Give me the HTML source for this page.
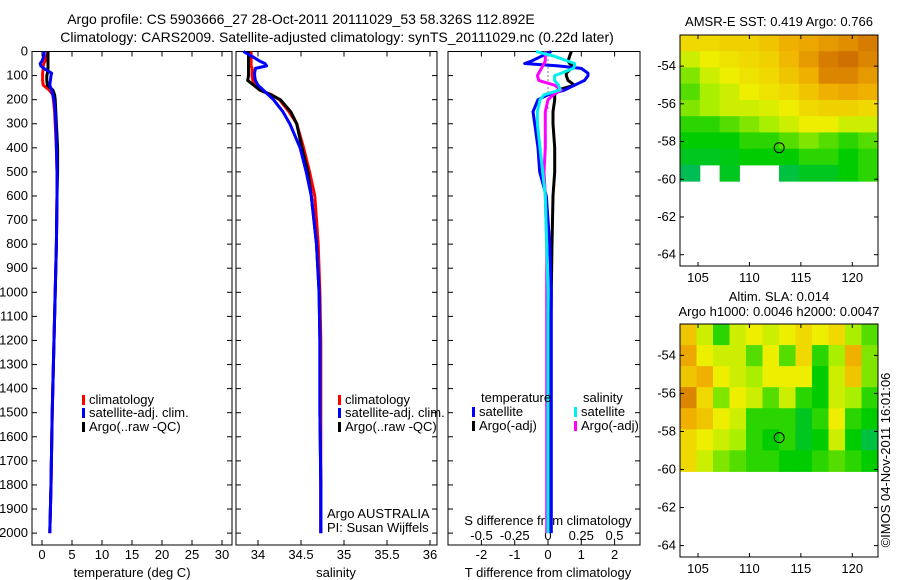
<!DOCTYPE html>
<html><head><meta charset="utf-8"><style>
body{margin:0;background:#fff}
svg{display:block;font-family:"Liberation Sans",Arial,sans-serif;font-size:13px}
</style></head><body>
<svg id="c" width="900" height="580" viewBox="0 0 900 580">
<text x="301" y="24" text-anchor="middle" font-size="14">Argo profile: CS 5903666_27 28-Oct-2011 20111029_53 58.326S 112.892E</text>
<text x="337" y="42" text-anchor="middle" font-size="14">Climatology: CARS2009. Satellite-adjusted climatology: synTS_20111029.nc (0.22d later)</text>
</svg>
<script>
// ---------- data ----------
const depthTicks=[0,100,200,300,400,500,600,700,800,900,1000,1100,1200,1300,1400,1500,1600,1700,1800,1900,2000];
const depths=[0,20,40,50,60,70,90,100,120,140,160,180,200,250,300,400,500,600,800,1000,1200,1500,1800,2000];
const tempClim=[1.0,0.8,0.5,0.3,0.2,0.2,0.1,0.1,0.1,0.2,1.2,1.8,1.9,2.1,2.2,2.4,2.5,2.5,2.4,2.2,2.0,1.7,1.5,1.3];
const tempSat=[0.4,0.3,0.0,-0.3,-0.2,0.3,1.6,1.5,1.4,1.3,1.6,1.8,2.0,2.2,2.3,2.4,2.5,2.5,2.4,2.2,2.0,1.7,1.5,1.3];
const tempArgo=[1.0,1.0,1.0,1.0,1.0,1.0,0.9,0.8,0.8,0.9,1.8,2.1,2.2,2.3,2.4,2.6,2.6,2.5,2.4,2.2,2.0,1.7,1.5,1.3];
const salClim=[33.92,33.92,33.92,33.92,33.92,33.93,33.93,33.93,33.94,33.96,34.02,34.16,34.25,34.36,34.45,34.53,34.6,34.66,34.7,34.72,34.73,34.73,34.73,34.73];
const salSat=[33.83,33.93,34.02,34.08,34.1,33.97,33.96,33.96,33.97,34.0,34.06,34.12,34.18,34.29,34.37,34.49,34.56,34.62,34.68,34.71,34.72,34.72,34.73,34.73];
const salArgo=[33.89,33.89,33.89,33.89,33.89,33.89,33.89,33.89,33.88,33.95,34.02,34.15,34.26,34.38,34.45,34.51,34.58,34.62,34.68,34.71,34.72,34.72,34.73,34.73];
const dTSat=[0.1,-0.2,-0.5,-0.7,0.3,1.0,1.2,1.2,1.1,0.8,0.5,0.0,-0.3,-0.45,-0.4,-0.3,-0.25,-0.05,0.05,0.1,0.1,0.1,0.1,0.1];
const dTArgo=[0.7,0.65,0.6,0.65,0.75,0.7,0.55,0.55,0.6,0.8,0.3,0.2,0.2,0.15,0.15,0.2,0.2,0.15,0.12,0.1,0.08,0.06,0.05,0.05];
const dSSat=[-0.09,0.05,0.15,0.2,0.2,0.19,0.1,0.05,0.05,0.08,0.09,-0.03,-0.06,-0.08,-0.08,-0.06,-0.04,-0.02,-0.01,0,0,0,0,0];
const dSArgo=[-0.02,-0.02,-0.02,-0.03,-0.04,-0.05,-0.07,-0.08,-0.07,0.05,0.1,0.04,0.0,-0.02,-0.02,-0.02,-0.03,-0.02,-0.01,-0.01,-0.01,-0.01,-0.01,-0.01];
const tempTicks=[0,5,10,15,20,25,30];
const salTicks=[34,34.5,35,35.5,36];
const salTickLabels=["34","34.5","35","35.5","36"];
const dTTicks=[-2,-1,0,1,2];
const dSTicks=[-0.5,-0.25,0,0.25,0.5];
const lonTicks=[105,110,115,120];
const latTicks=[-54,-56,-58,-60,-62,-64];
const sstGrid=[
[0.6,0.6,0.62,0.62,0.65,0.7,0.72,0.75,0.78,0.82],
[0.5,0.55,0.58,0.6,0.62,0.68,0.75,0.82,0.85,0.8],
[0.4,0.5,0.55,0.58,0.6,0.65,0.7,0.8,0.8,0.75],
[0.35,0.45,0.5,0.55,0.58,0.6,0.65,0.7,0.72,0.7],
[0.4,0.45,0.5,0.5,0.52,0.55,0.6,0.62,0.62,0.6],
[0.3,0.3,0.35,0.4,0.45,0.5,0.55,0.55,0.5,0.5],
[0.25,0.25,0.25,0.3,0.3,0.35,0.4,0.35,0.3,0.35],
[0.2,0.2,0.22,0.25,0.25,0.25,0.3,0.3,0.25,0.3],
[0.12,-1,0.2,-1,-1,0.15,0.2,0.2,0.25,0.3]];
const slaGrid=[
[0.65,0.5,0.3,0.5,0.55,0.5,0.55,0.6,0.55,0.6,0.45,0.35],
[0.72,0.55,0.5,0.5,0.35,0.55,0.35,0.6,0.3,0.45,0.7,0.4],
[0.65,0.7,0.55,0.5,0.45,0.55,0.55,0.55,0.25,0.5,0.65,0.4],
[0.8,0.6,0.4,0.55,0.5,0.35,0.5,0.3,0.25,0.5,0.45,0.3],
[0.7,0.65,0.55,0.5,0.3,0.3,0.3,0.2,0.3,0.55,0.3,0.25],
[0.6,0.55,0.5,0.45,0.3,0.25,0.3,0.2,0.25,0.5,0.25,0.15],
[0.6,0.5,0.4,0.35,0.3,0.3,0.25,0.25,0.3,0.35,0.3,0.25]];
const argoLon=112.892, argoLat=-58.326;

// ---------- helpers ----------
const svg=document.getElementById('c');
const NS='http://www.w3.org/2000/svg';
function mk(tag,attrs,parent){const e=document.createElementNS(NS,tag);for(const k in attrs)e.setAttribute(k,attrs[k]);(parent||svg).appendChild(e);return e;}
const Y0=51.5, YD=0.2408;
const yDepth=d=>Y0+d*YD;
const xT=t=>42+t*6;
const xS=s=>258+(s-34)*86;
const xDT=t=>548+t*33.3;
const xDS=s=>548+s*133;
const BOT=545;

function frame(x0,x1,name){
  const r=mk('rect',{x:x0,y:Y0,width:x1-x0,height:BOT-Y0,fill:'none',stroke:'#000','stroke-width':1});
  
  
  depthTicks.forEach(d=>{const y=yDepth(d);
    mk('line',{x1:x0,x2:x0+5,y1:y,y2:y,stroke:'#000'});
    mk('line',{x1:x1,x2:x1-5,y1:y,y2:y,stroke:'#000'});});
}
function xticks(xs,fn,labels,y,x0,x1,name){
  xs.forEach((v,i)=>{const x=fn(v);
    mk('line',{x1:x,x2:x,y1:BOT,y2:BOT-5,stroke:'#000'});
    mk('line',{x1:x,x2:x,y1:Y0,y2:Y0+5,stroke:'#000'});
    if(labels){const t=mk('text',{x:x,y:y,'text-anchor':'middle'});t.textContent=labels[i];
      
      }
  });
}
function line(vals,fn,color,name,w){
  const p=vals.map((v,i)=>fn(v).toFixed(1)+','+yDepth(depths[i]).toFixed(1)).join(' ');
  const e=mk('polyline',{points:p,fill:'none',stroke:color,'stroke-width':w||3,'stroke-linejoin':'round'});
  
  
}
function txt(x,y,s,name,anchor){const t=mk('text',{x:x,y:y,'text-anchor':anchor||'start'});t.textContent=s;
  
  return t;}
function legend(x,y,color,label){
  const r=mk('rect',{x:x,y:y-9,width:3,height:10,fill:color});
  
  
  txt(x+7,y,label,'legend-entry');
}

// ---------- panel 1 temperature ----------
frame(32,232,'temperature-panel');
depthTicks.forEach(d=>{const t=txt(28,yDepth(d)+4,String(d),'y-tick-label','end');});
xticks(tempTicks,xT,tempTicks.map(String),559,32,232,'x-tick-label');
txt(132,577,'temperature (deg C)','x-axis-title','middle');
line(tempClim,xT,'#ff0000','temp-climatology-line');
line(tempArgo,xT,'#000000','temp-argo-line');
line(tempSat,xT,'#0000ff','temp-satellite-line');
legend(82,404,'#ff0000','climatology');
legend(82,417,'#0000ff','satellite-adj. clim.');
legend(82,431,'#000000','Argo(..raw -QC)');

// ---------- panel 2 salinity ----------
frame(236,437,'salinity-panel');
xticks(salTicks,xS,salTickLabels,559,236,437,'x-tick-label');
txt(336,577,'salinity','x-axis-title','middle');
line(salClim,xS,'#ff0000','sal-climatology-line');
line(salArgo,xS,'#000000','sal-argo-line');
line(salSat,xS,'#0000ff','sal-satellite-line');
legend(338,404,'#ff0000','climatology');
legend(338,417,'#0000ff','satellite-adj. clim.');
legend(338,431,'#000000','Argo(..raw -QC)');
txt(327,518,'Argo AUSTRALIA','agency-label');
txt(327,532,'PI: Susan Wijffels','pi-label');

// ---------- panel 3 differences ----------
frame(448,640,'difference-panel');
xticks(dTTicks,xDT,dTTicks.map(String),559,448,640,'t-tick-label');
dSTicks.forEach(v=>{const t=txt(xDS(v),540,String(v),'s-tick-label','middle');});
txt(548,525,'S difference from climatology','s-axis-title','middle');
txt(548,577,'T difference from climatology','t-axis-title','middle');
mk('line',{x1:548,x2:548,y1:Y0,y2:yDepth(250),stroke:'#000','stroke-dasharray':'1,3'});
line(dTArgo,xDT,'#000000','dt-argo-line');
line(dTSat,xDT,'#0000ff','dt-satellite-line');
line(dSArgo,xDS,'#ff00ff','ds-argo-line');
line(dSSat,xDS,'#00eeee','ds-satellite-line');
txt(481,402,'temperature','legend-heading');
txt(583,402,'salinity','legend-heading');
legend(472,416,'#0000ff','satellite');
legend(472,430,'#000000','Argo(-adj)');
legend(574,416,'#00eeee','satellite');
legend(574,430,'#ff00ff','Argo(-adj)');

// ---------- maps ----------
const stops=[[0,[0,176,160]],[0.25,[0,204,0]],[0.45,[170,238,0]],[0.55,[238,238,0]],[0.7,[240,176,0]],[0.85,[208,112,0]],[1,[160,0,0]]];
function col(v){for(let i=1;i<stops.length;i++){if(v<=stops[i][0]){const a=stops[i-1],b=stops[i];const f=(v-a[0])/(b[0]-a[0]);
  const c=a[1].map((x,k)=>Math.round(x+(b[1][k]-x)*f));return 'rgb('+c+')';}}return 'rgb(160,0,0)';}
function map(top,bot,grid,name){
  const L=680,R=878;
  const lonX=l=>L+(l-103.25)*(R-L)/(122.5-103.25);
  const latY=a=>top+(a-(-52.35))*(bot-top)/(-64.6+52.35);
  const g=mk('g',{});
  
  
  const rows=grid.length, cols=grid[0].length;
  const y0=latY(-52.35), y1=latY(-60.1);
  grid.forEach((row,ri)=>row.forEach((v,ci)=>{
    if(v<0)return;
    const c=mk('rect',{x:L+ci*(R-L)/cols,y:y0+ri*(y1-y0)/rows,width:(R-L)/cols+0.5,height:(y1-y0)/rows+0.5,fill:col(v)},g);
    
    
  }));
  mk('rect',{x:L,y:top,width:R-L,height:bot-top,fill:'none',stroke:'#000'},g);
  lonTicks.forEach(l=>{const x=lonX(l);mk('line',{x1:x,x2:x,y1:bot,y2:bot-4,stroke:'#000'},g);mk('line',{x1:x,x2:x,y1:top,y2:top+4,stroke:'#000'},g);
    txt(x,bot+16,String(l),'lon-tick-label','middle');});
  latTicks.forEach(a=>{const y=latY(a);mk('line',{x1:L,x2:L+4,y1:y,y2:y,stroke:'#000'},g);mk('line',{x1:R,x2:R-4,y1:y,y2:y,stroke:'#000'},g);
    txt(L-4,y+4,String(a),'lat-tick-label','end');});
  const m=mk('circle',{cx:lonX(argoLon),cy:latY(argoLat),r:5,fill:'none',stroke:'#000','stroke-width':1},g);
  
  
}
txt(779,26,'AMSR-E SST: 0.419 Argo: 0.766','sst-map-title','middle');
map(35,266,sstGrid,'sst-map');
txt(779,301,'Altim. SLA: 0.014','sla-map-title','middle');
txt(779,316,'Argo h1000: 0.0046 h2000: 0.0047','sla-map-subtitle','middle');
map(324,557,slaGrid,'sla-map');
const cr=txt(0,0,'©IMOS 04-Nov-2011 16:01:06','copyright-label','middle');
cr.setAttribute('transform','translate(890,460) rotate(-90)');
</script>
</body></html>
